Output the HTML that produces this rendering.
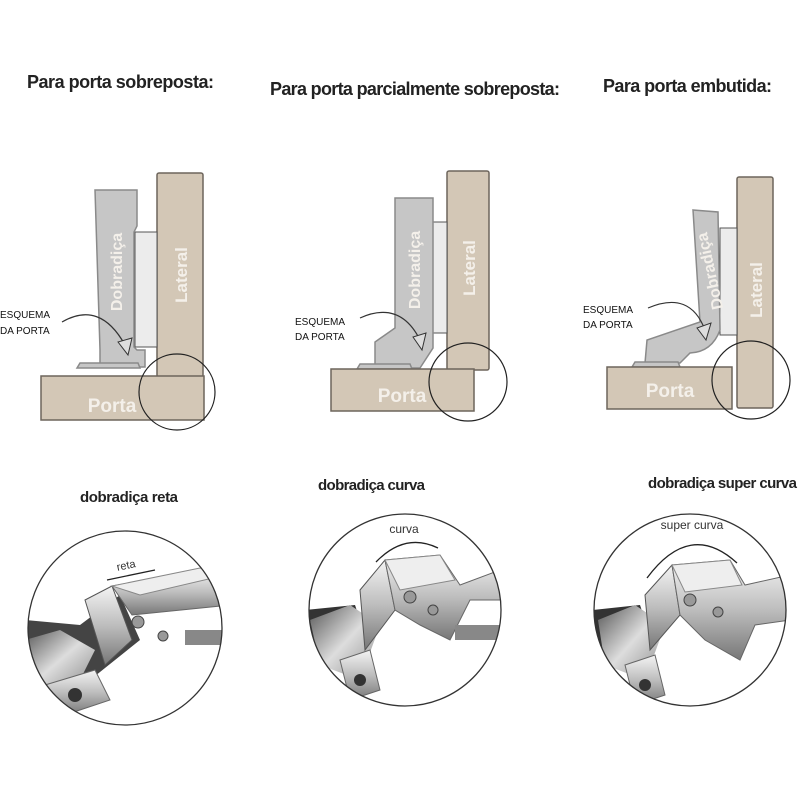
<!DOCTYPE html>
<html><head><meta charset="utf-8"><style>
html,body{margin:0;padding:0;background:#fff;}
svg{display:block;}
.t{font-family:"Liberation Sans Narrow","Liberation Sans",sans-serif;font-weight:bold;fill:#222;}
.e{font-family:"Liberation Sans",sans-serif;font-size:10px;fill:#111;}
.w{font-family:"Liberation Sans Narrow","Liberation Sans",sans-serif;font-weight:bold;fill:#f4f0ea;}
.tan{fill:#d3c7b6;stroke:#6d655c;stroke-width:1.5;}
.gr{fill:#c6c6c6;stroke:#8a8a8a;stroke-width:1.5;}
.pl{fill:#ececec;stroke:#555;stroke-width:1;}
</style></head><body>
<svg width="800" height="800" viewBox="0 0 800 800" xmlns="http://www.w3.org/2000/svg">
<defs>
<linearGradient id="m1" x1="0" y1="0" x2="0" y2="1"><stop offset="0" stop-color="#f4f4f4"/><stop offset="0.5" stop-color="#bdbdbd"/><stop offset="1" stop-color="#777"/></linearGradient>
<linearGradient id="m2" x1="0" y1="0" x2="1" y2="1"><stop offset="0" stop-color="#555"/><stop offset="0.5" stop-color="#ddd"/><stop offset="1" stop-color="#888"/></linearGradient>
<clipPath id="c1"><circle cx="125" cy="628" r="97"/></clipPath>
<clipPath id="c2"><circle cx="405" cy="610" r="96"/></clipPath>
<clipPath id="c3"><circle cx="690" cy="610" r="96"/></clipPath>
</defs>

<text class="t" x="27" y="88" font-size="18" textLength="187">Para porta sobreposta:</text>
<text class="t" x="270" y="95" font-size="18" textLength="290">Para porta parcialmente sobreposta:</text>
<text class="t" x="603" y="92" font-size="18" textLength="169">Para porta embutida:</text>

<!-- Panel 1 -->
<rect class="tan" x="157" y="173" width="46" height="204" rx="2"/>
<rect class="pl" x="135" y="232" width="22" height="115"/>
<path class="gr" d="M95,190 H137 V226 L134,232 V347 L137,350 H145 V367 H100 V350 Z"/>
<path class="gr" d="M77,368 L80,363 H138 L140,368 Z"/>
<rect class="tan" x="41" y="376" width="163" height="44"/>
<text class="w" x="112" y="412" font-size="19" text-anchor="middle">Porta</text>
<text class="w" font-size="17" transform="translate(187,275) rotate(-90)" text-anchor="middle">Lateral</text>
<text class="w" font-size="16" transform="translate(122,272) rotate(-90)" text-anchor="middle">Dobradiça</text>
<circle cx="177" cy="392" r="38" fill="none" stroke="#222" stroke-width="1.2"/>
<text class="e" x="0" y="318">ESQUEMA</text><text class="e" x="0" y="334">DA PORTA</text>
<path d="M62,322 Q100,300 125,345" fill="none" stroke="#333" stroke-width="1.2"/>
<path d="M118,342 L128,355 L132,338 Z" fill="#ddd" stroke="#333"/>

<!-- Panel 2 -->
<rect class="tan" x="447" y="171" width="42" height="199" rx="2"/>
<rect class="pl" x="432" y="222" width="15" height="111"/>
<path class="gr" d="M395,198 H433 V348 L420,368 H375 V342 L395,328 Z"/>
<path class="gr" d="M357,369 L360,364 H410 L412,369 Z"/>
<rect class="tan" x="331" y="369" width="143" height="42"/>
<text class="w" x="402" y="402" font-size="19" text-anchor="middle">Porta</text>
<text class="w" font-size="17" transform="translate(475,268) rotate(-90)" text-anchor="middle">Lateral</text>
<text class="w" font-size="16" transform="translate(420,270) rotate(-90)" text-anchor="middle">Dobradiça</text>
<circle cx="468" cy="382" r="39" fill="none" stroke="#222" stroke-width="1.2"/>
<text class="e" x="295" y="325">ESQUEMA</text><text class="e" x="295" y="340">DA PORTA</text>
<path d="M360,318 Q400,300 420,340" fill="none" stroke="#333" stroke-width="1.2"/>
<path d="M413,337 L422,350 L426,333 Z" fill="#ddd" stroke="#333"/>

<!-- Panel 3 -->
<rect class="tan" x="737" y="177" width="36" height="231" rx="2"/>
<rect class="pl" x="720" y="228" width="17" height="107"/>
<path class="gr" d="M693,210 L718,212 L720,330 Q712,352 690,353 L680,363 H645 L647,340 L700,322 Z"/>
<path class="gr" d="M632,367 L635,362 H678 L680,367 Z"/>
<rect class="tan" x="607" y="367" width="125" height="42"/>
<text class="w" x="670" y="397" font-size="19" text-anchor="middle">Porta</text>
<text class="w" font-size="17" transform="translate(762,290) rotate(-90)" text-anchor="middle">Lateral</text>
<text class="w" font-size="16" transform="translate(715,270) rotate(-12) rotate(-90)" text-anchor="middle">Dobradiça</text>
<circle cx="751" cy="380" r="39" fill="none" stroke="#222" stroke-width="1.2"/>
<text class="e" x="583" y="313">ESQUEMA</text><text class="e" x="583" y="328">DA PORTA</text>
<path d="M648,308 Q690,290 705,330" fill="none" stroke="#333" stroke-width="1.2"/>
<path d="M697,328 L706,340 L711,323 Z" fill="#ddd" stroke="#333"/>

<!-- bottom labels -->
<text class="t" x="80" y="502" font-size="15" textLength="98">dobradiça reta</text>
<text class="t" x="318" y="490" font-size="15" textLength="107">dobradiça curva</text>
<text class="t" x="648" y="488" font-size="15" textLength="149">dobradiça super curva</text>

<!-- photo 1 -->
<g clip-path="url(#c1)">
<rect x="20" y="530" width="210" height="200" fill="#fff"/>
<path d="M25,620 L80,625 L120,595 L140,640 L90,680 L25,665 Z" fill="#444"/>
<path d="M25,640 L60,630 L95,650 L75,690 L25,680 Z" fill="url(#m2)"/>
<path d="M85,600 L112,586 L132,640 L105,665 Z" fill="url(#m1)" stroke="#555"/>
<path d="M112,586 L200,570 L230,575 L230,605 L132,615 Z" fill="url(#m1)" stroke="#666"/>
<path d="M112,586 L200,568 L230,574 L140,595 Z" fill="#eee" stroke="#888"/>
<path d="M45,685 L95,670 L110,700 L65,715 Z" fill="url(#m1)" stroke="#666"/>
<circle cx="75" cy="695" r="7" fill="#333"/><circle cx="138" cy="622" r="6" fill="#999" stroke="#444"/>
<circle cx="163" cy="636" r="5" fill="#999" stroke="#444"/>
<rect x="185" y="630" width="40" height="15" fill="#888"/>
</g>
<circle cx="125" cy="628" r="97" fill="none" stroke="#333" stroke-width="1.3"/>
<text x="126" y="569" font-family="Liberation Sans Narrow,Liberation Sans,sans-serif" font-size="11" fill="#333" text-anchor="middle" transform="rotate(-12 126 565)">reta</text>
<path d="M107,580 L155,570" stroke="#222" stroke-width="1.3"/>

<!-- photo 2 -->
<g clip-path="url(#c2)">
<rect x="305" y="510" width="200" height="200" fill="#fff"/>
<path d="M305,610 L355,605 L370,650 L320,670 L305,665 Z" fill="#333"/>
<path d="M310,620 L350,605 L380,625 L360,680 L320,665 Z" fill="url(#m2)"/>
<path d="M360,590 L385,560 L395,610 L365,650 Z" fill="url(#m1)" stroke="#555"/>
<path d="M385,560 L440,555 L460,585 L500,570 L505,600 L470,600 L450,640 L420,625 L395,610 Z" fill="url(#m1)" stroke="#666"/>
<path d="M385,560 L440,555 L455,580 L400,590 Z" fill="#eee" stroke="#888"/>
<path d="M340,660 L370,650 L380,690 L350,700 Z" fill="url(#m1)" stroke="#666"/>
<circle cx="360" cy="680" r="6" fill="#333"/><circle cx="410" cy="597" r="6" fill="#999" stroke="#444"/><circle cx="433" cy="610" r="5" fill="#999" stroke="#444"/>
<rect x="455" y="625" width="45" height="15" fill="#888"/>
</g>
<circle cx="405" cy="610" r="96" fill="none" stroke="#333" stroke-width="1.3"/>
<text x="404" y="533" font-family="Liberation Sans Narrow,Liberation Sans,sans-serif" font-size="12" fill="#333" text-anchor="middle">curva</text>
<path d="M376,562 Q405,532 438,548" fill="none" stroke="#222" stroke-width="1.3"/>

<!-- photo 3 -->
<g clip-path="url(#c3)">
<rect x="590" y="510" width="200" height="200" fill="#fff"/>
<path d="M593,610 L640,605 L655,650 L605,670 L593,665 Z" fill="#333"/>
<path d="M598,620 L635,605 L665,625 L645,680 L605,665 Z" fill="url(#m2)"/>
<path d="M645,595 L672,565 L680,615 L650,650 Z" fill="url(#m1)" stroke="#555"/>
<path d="M672,565 L730,560 L745,585 L790,575 L790,620 L755,625 L740,660 L705,640 L680,615 Z" fill="url(#m1)" stroke="#666"/>
<path d="M672,565 L730,560 L742,585 L685,592 Z" fill="#eee" stroke="#888"/>
<path d="M625,665 L655,655 L665,695 L635,705 Z" fill="url(#m1)" stroke="#666"/>
<circle cx="645" cy="685" r="6" fill="#333"/><circle cx="690" cy="600" r="6" fill="#999" stroke="#444"/><circle cx="718" cy="612" r="5" fill="#999" stroke="#444"/>
</g>
<circle cx="690" cy="610" r="96" fill="none" stroke="#333" stroke-width="1.3"/>
<text x="692" y="529" font-family="Liberation Sans Narrow,Liberation Sans,sans-serif" font-size="12" fill="#333" text-anchor="middle">super curva</text>
<path d="M647,578 Q690,520 737,563" fill="none" stroke="#222" stroke-width="1.3"/>
</svg>
</body></html>
